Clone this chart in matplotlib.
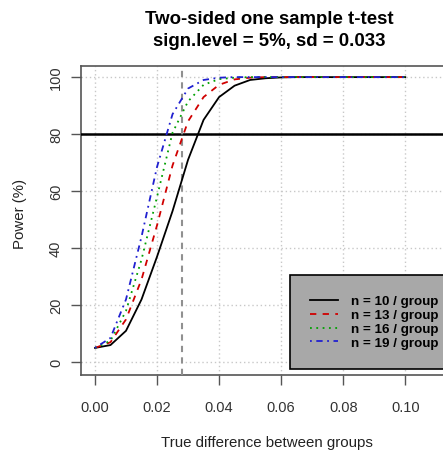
import matplotlib
matplotlib.use("Agg")
import matplotlib.pyplot as plt

plt.rcParams['font.family'] = ['Liberation Sans', 'DejaVu Sans']

# true difference between groups (x) and power (%)
diff = [0.000, 0.005, 0.010, 0.015, 0.020, 0.025, 0.030, 0.035, 0.040, 0.045, 0.050,
        0.055, 0.060, 0.065, 0.070, 0.075, 0.080, 0.085, 0.090, 0.095, 0.100]
power_n10 = [5, 6, 11, 22, 37, 53, 71, 85, 93, 97, 99, 99.6, 99.9, 100, 100, 100, 100, 100, 100, 100, 100]
power_n13 = [5, 7, 15, 29, 48, 69, 84.5, 93, 97.3, 99.2, 99.8, 100, 100, 100, 100, 100, 100, 100, 100, 100, 100]
power_n16 = [5, 7.5, 18, 36, 58, 80.5, 91.5, 97.3, 99.3, 99.8, 100, 100, 100, 100, 100, 100, 100, 100, 100, 100, 100]
power_n19 = [5, 8.5, 22, 44, 68.5, 87, 96, 99, 99.8, 100, 100, 100, 100, 100, 100, 100, 100, 100, 100, 100, 100]
labels = ["n = 10 / group", "n = 13 / group", "n = 16 / group", "n = 19 / group"]
target_power = 80
chosen_diff = 0.028

fig = plt.figure(figsize=(4.43, 4.52), dpi=100)
W, H = 443, 452
# axes box in pixels: left 81, right 458 (cut off), top 67, bottom 376
ax = fig.add_axes([81 / W, (H - 376) / H, (458 - 81) / W, (376 - 67) / H])

ax.set_xlim(-0.0045, 0.117)
ax.set_ylim(-4.5, 103.9)
ax.set_xticks([0, 0.02, 0.04, 0.06, 0.08, 0.10])
ax.set_xticklabels(["0.00", "0.02", "0.04", "0.06", "0.08", "0.10"])
ax.set_yticks([0, 20, 40, 60, 80, 100])
ax.grid(True, color='#c8c8c8', linestyle=(0, (1, 2)), linewidth=1)
ax.set_axisbelow(True)

ax.axhline(target_power, color='black', lw=1.8, zorder=3)
ax.axvline(chosen_diff, color='#909090', lw=1.5, linestyle=(0, (3, 2.5)), zorder=3)

ax.plot(diff, power_n10, color='black', lw=1.3, label=labels[0], zorder=4)
ax.plot(diff, power_n13, color='#d00000', lw=1.3, linestyle=(0, (3.5, 3.5)), label=labels[1], zorder=4)
ax.plot(diff, power_n16, color='#00a000', lw=1.3, linestyle=(0, (1, 2.5)), label=labels[2], zorder=4)
ax.plot(diff, power_n19, color='#2020d0', lw=1.3, linestyle=(0, (1, 2.5, 3.5, 2.5)), label=labels[3], zorder=4)

for s in ax.spines.values():
    s.set_color('#555555')
    s.set_linewidth(1.2)

ax.tick_params(axis='both', length=7, width=1, color='#555555', labelcolor='#333333', labelsize=10.5)
ax.tick_params(axis='x', pad=11)
ax.tick_params(axis='y', pad=6)
plt.setp(ax.get_yticklabels(), rotation=90, va='center')

leg = ax.legend(loc='lower left', bbox_to_anchor=(0.554, 0.019), frameon=True, fancybox=False,
                facecolor='#a8a8a8', edgecolor='black', framealpha=1,
                prop={'weight': 'bold', 'size': 9.6}, handlelength=2.1, handletextpad=1.0,
                labelspacing=0.12, borderpad=1.5, borderaxespad=0)
leg.get_frame().set_linewidth(1.2)

fig.text(269 / W, 1 - 19 / H, "Two-sided one sample t-test", ha='center', va='center',
         fontsize=13.4, fontweight='bold')
fig.text(269 / W, 1 - 41 / H, "sign.level = 5%, sd = 0.033", ha='center', va='center',
         fontsize=13.4, fontweight='bold')
fig.text(267 / W, 1 - 443 / H, "True difference between groups", ha='center', va='center',
         fontsize=10.8, color='#222222')
fig.text(20 / W, 1 - 214 / H, "Power (%)", ha='center', va='center', rotation=90,
         fontsize=10.8, color='#222222')

fig.savefig("out.png", dpi=100)
